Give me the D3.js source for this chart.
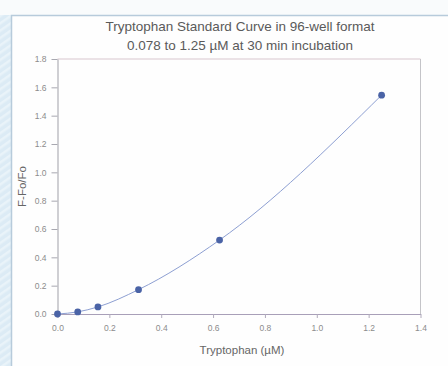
<!DOCTYPE html>
<html>
<head>
<meta charset="utf-8">
<script src="https://cdn.jsdelivr.net/npm/d3@7"></script>
<style>
  html, body { margin: 0; padding: 0; background: #f9fbfc; }
  svg { display: block; font-family: "Liberation Sans", Arial, sans-serif; }
</style>
</head>
<body>
<div id="chart"></div>
<script>
(function () {
'use strict';
// Tryptophan standard curve, 96-well format

const concentrations = [0, 0.078, 0.156, 0.3125, 0.625, 1.25];   // µM
const response = [0.0, 0.015, 0.05, 0.172, 0.522, 1.545];          // F-Fo/Fo
const xTicks = [0, 0.2, 0.4, 0.6, 0.8, 1.0, 1.2, 1.4];
const yTicks = [0, 0.2, 0.4, 0.6, 0.8, 1.0, 1.2, 1.4, 1.6, 1.8];
const titleLines = ["Tryptophan Standard Curve in 96-well format",
                    "0.078 to 1.25 \u00b5M at 30 min incubation"];

const width = 448, height = 366;
const plot = {left: 57.5, right: 420.5, top: 59, bottom: 314};

const svg = d3.select("#chart").append("svg")
  .attr("width", width).attr("height", height);

// page background + panel
const defs = svg.append("defs");
const pat = defs.append("pattern")
  .attr("id", "stripes").attr("width", 6).attr("height", 6)
  .attr("patternUnits", "userSpaceOnUse")
  .attr("patternTransform", "rotate(-35)");
pat.append("rect").attr("width", 6).attr("height", 6).attr("fill", "#dcebf5");
pat.append("rect").attr("width", 6).attr("height", 2.5).attr("fill", "#e9f3f9");

svg.append("rect").attr("width", width).attr("height", height).attr("fill", "#f9fbfc");
svg.append("rect").attr("x", 0).attr("y", 15).attr("width", 11.5).attr("height", height - 15)
  .attr("fill", "url(#stripes)");
svg.append("rect")
  .attr("x", 11.5).attr("y", 15.5).attr("width", width).attr("height", height)
  .attr("fill", "#fefefe").attr("stroke", "#b7cbdb").attr("stroke-width", 1.5);

const x = d3.scaleLinear().domain([0, 1.4]).range([plot.left, plot.right]);
const y = d3.scaleLinear().domain([0, 1.8]).range([plot.bottom, plot.top]);

// frame top/right
svg.append("line")
  .attr("x1", plot.left).attr("x2", plot.right)
  .attr("y1", plot.top).attr("y2", plot.top)
  .attr("stroke", "#d8c6ce").attr("stroke-width", 1);
svg.append("line")
  .attr("x1", plot.right).attr("x2", plot.right)
  .attr("y1", plot.top).attr("y2", plot.bottom)
  .attr("stroke", "#c4c4c8").attr("stroke-width", 1);

// axes
const xAxisG = svg.append("g")
  .attr("transform", `translate(0,${plot.bottom})`)
  .call(d3.axisBottom(x).tickValues(xTicks).tickFormat(d3.format(".1f"))
    .tickSize(4).tickSizeOuter(0).tickPadding(7));
xAxisG.select(".domain").attr("stroke", "#a89fb8");
xAxisG.selectAll(".tick line").attr("stroke", "#b0aabb");

const yAxisG = svg.append("g")
  .attr("transform", `translate(${plot.left},0)`)
  .call(d3.axisLeft(y).tickValues(yTicks).tickFormat(d3.format(".1f"))
    .tickSize(6).tickSizeOuter(0).tickPadding(5));
yAxisG.select(".domain").attr("stroke", "#a0a0a8");
yAxisG.selectAll(".tick line").attr("stroke", "#a8a8b0");

svg.selectAll(".tick text")
  .attr("fill", "#8c8c8c")
  .style("font-size", "8.5px")
  .style("font-family", "'Liberation Sans', Arial, sans-serif");

// curve
const pts = concentrations.map((c, i) => [c, response[i]]);
const line = d3.line()
  .x(d => x(d[0])).y(d => y(d[1]))
  .curve(d3.curveMonotoneX);

svg.append("path")
  .datum(pts)
  .attr("d", line)
  .attr("fill", "none")
  .attr("stroke", "#8d9fd2")
  .attr("stroke-width", 1);

svg.selectAll("circle.pt").data(pts).join("circle")
  .attr("class", "pt")
  .attr("cx", d => x(d[0])).attr("cy", d => y(d[1]))
  .attr("r", 3.4)
  .attr("fill", "#4a63a6");

// titles
svg.selectAll("text.title").data(titleLines).join("text")
  .attr("class", "title")
  .attr("x", 240)
  .attr("y", (d, i) => 31 + i * 18.5)
  .attr("text-anchor", "middle")
  .attr("fill", "#5a5a5a")
  .style("font-size", "13.5px")
  .text(d => d);

svg.append("text")
  .attr("x", 242).attr("y", 354)
  .attr("text-anchor", "middle")
  .attr("fill", "#666")
  .style("font-size", "11.5px")
  .text("Tryptophan (\u00b5M)");

svg.append("text")
  .attr("transform", `translate(26,${(plot.top + plot.bottom) / 2}) rotate(-90)`)
  .attr("text-anchor", "middle")
  .attr("fill", "#666")
  .style("font-size", "11.5px")
  .text("F-Fo/Fo");
})();
</script>
</body>
</html>
